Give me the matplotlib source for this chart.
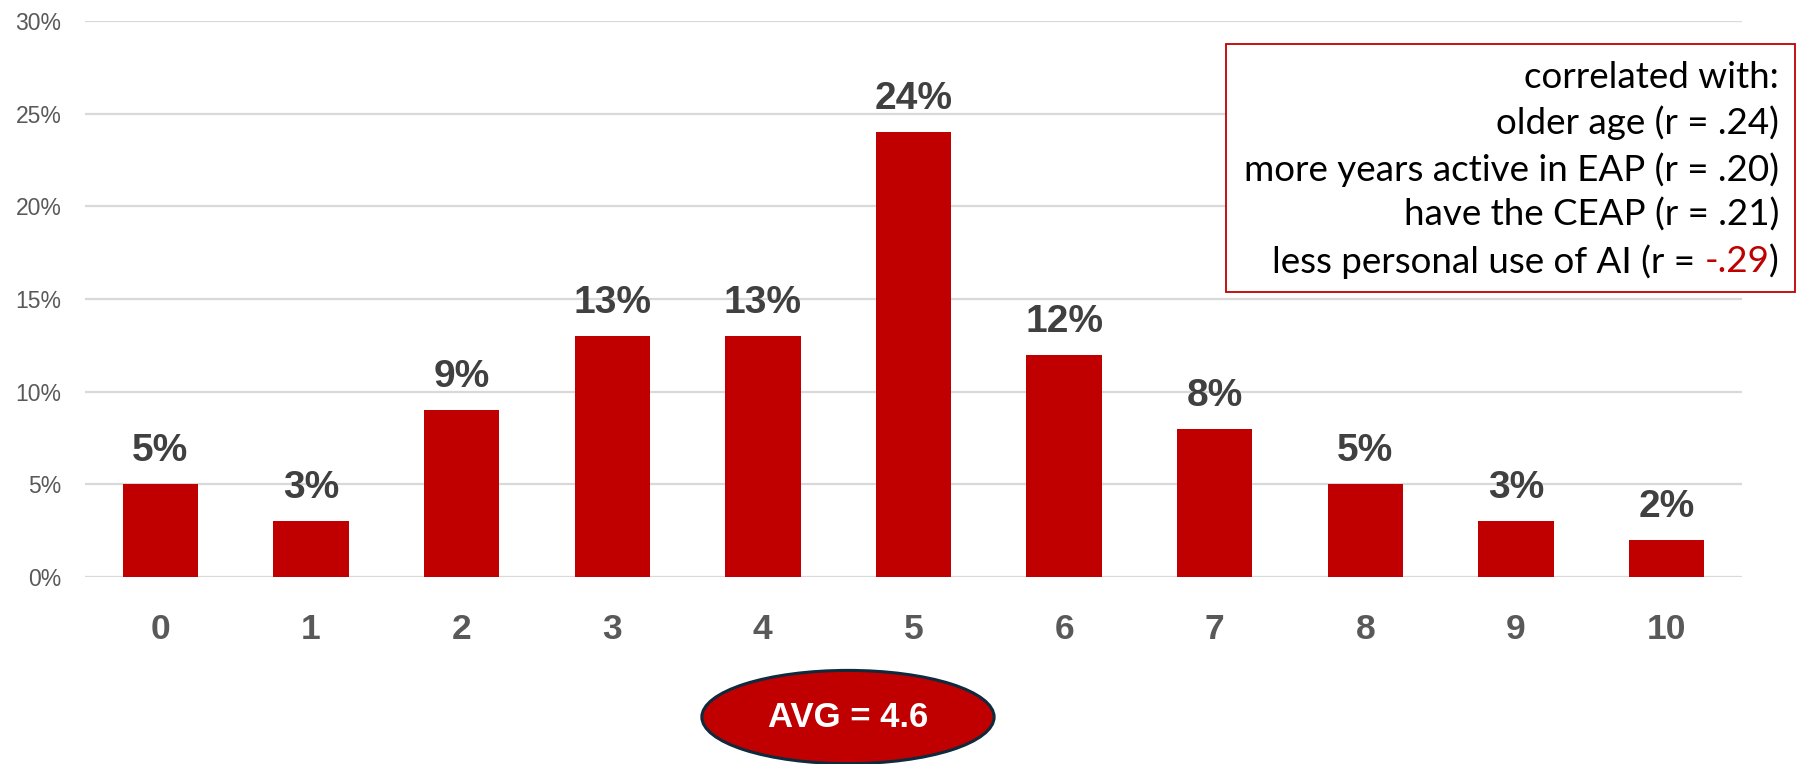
import matplotlib.pyplot as plt
from matplotlib.patches import Ellipse, Rectangle
from matplotlib.transforms import blended_transform_factory

# - - - - data - - -
scores = ["0", "1", "2", "3", "4", "5", "6", "7", "8", "9", "10"]
shares = [5, 3, 9, 13, 13, 24, 12, 8, 5, 3, 2]
ytick_vals = [0, 5, 10, 15, 20, 25, 30]
avg_score = 4.6
corr_title = "correlated with:"
corr_lines = ["older age (r = .24)",
              "more years active in EAP (r = .20)",
              "have the CEAP (r = .21)"]
last_line_start = "less personal use of AI (r = "
last_line_value = "-.29"
last_line_end = ")"

# - - - - colours - - -
red = "#C00000"
grid = "#D9D9D9"
dark = "#404040"
grey = "#595959"


def main():
    plt.rcParams['font.family'] = ['Liberation Sans', 'DejaVu Sans']
    fig = plt.figure(figsize=(17.97, 7.64), dpi=100)
    ax = fig.add_axes([0.0473, 0.2448, 0.9221, 0.7277])

    x = list(range(len(scores)))
    ax.bar(x, shares, width=0.5, color=red, zorder=3)
    for xi, v in zip(x, shares):
        ax.annotate(f"{v}%", xy=(xi, v), xytext=(0, 16.5),
                    textcoords='offset points', ha='center', va='baseline',
                    fontsize=28, fontweight='bold', color=dark)

    ax.set_xlim(-0.5, len(scores) - 0.5)
    ax.set_ylim(0, 30)
    ax.set_xticks(x)
    ax.set_xticklabels(scores, fontsize=25.5, fontweight='bold', color=grey)
    ax.set_yticks(ytick_vals)
    ax.set_yticklabels([f"{t}%" for t in ytick_vals], fontsize=16.5, color=grey)
    ax.tick_params(axis='x', length=0, pad=26)
    ax.tick_params(axis='y', length=0, pad=17)
    ax.yaxis.grid(True, color=grid, linewidth=1.6, zorder=0)
    ax.set_axisbelow(True)
    for s in ax.spines.values():
        s.set_visible(False)

    # AVG ellipse under the axis, near the average score
    tr = blended_transform_factory(ax.transData, fig.transFigure)
    ell = Ellipse((avg_score - 0.035, 0.0615), 1.94, 0.122, transform=tr,
                  facecolor=red, edgecolor="#0E2A3C", linewidth=2.2,
                  clip_on=False)
    fig.patches.append(ell)
    fig.text(avg_score - 0.035, 0.0615, f"AVG = {avg_score}", transform=tr,
             ha='center', va='center', fontsize=25, fontweight='bold',
             color='white')

    # correlation box
    box = Rectangle((0.6823, 0.618), 0.3166, 0.325, transform=fig.transFigure,
                    facecolor='white', edgecolor=red, linewidth=1.3)
    fig.patches.append(box)
    bfont = ['Lato', 'DejaVu Sans']
    fs = 26.5
    xr = 0.990
    ys = [0.899, 0.839, 0.778, 0.719, 0.658]
    for yy, line in zip(ys, [corr_title] + corr_lines):
        fig.text(xr, yy, line, ha='right', va='center', fontsize=fs,
                 family=bfont, color='black')

    # last line: black text, red value, black bracket, laid out right to left
    fig.canvas.draw()
    r = fig.canvas.get_renderer()
    inv = fig.transFigure.inverted()
    xpos = xr
    for part, col in [(last_line_end, 'black'), (last_line_value, red),
                      (last_line_start, 'black')]:
        t = fig.text(xpos, ys[4], part, ha='right', va='center', fontsize=fs,
                     family=bfont, color=col)
        bb = t.get_window_extent(renderer=r)
        xpos = inv.transform((bb.x0, bb.y0))[0]

    fig.savefig("out.png", dpi=100)


if __name__ == '__main__':
    main()
